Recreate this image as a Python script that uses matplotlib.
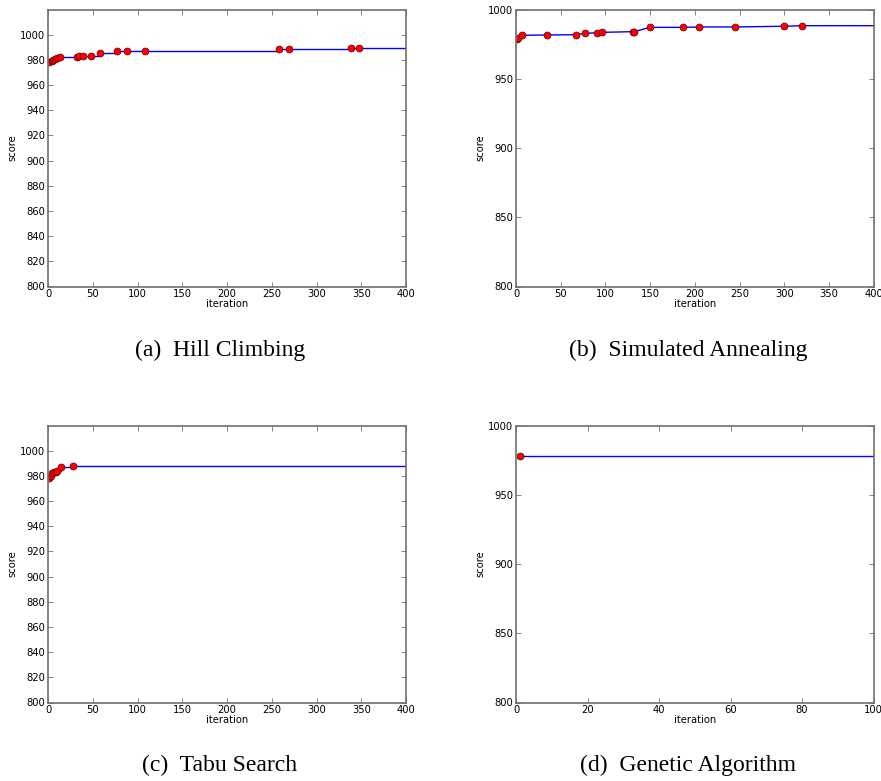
import matplotlib
matplotlib.use("Agg")
import matplotlib.pyplot as plt

# best score at each improving iteration
hc_iter = [1, 4, 6, 8, 10, 13, 32, 35, 39, 48, 58, 77, 88, 108, 258, 269, 339, 348]
hc_score = [978.2, 979.2, 980.2, 981.0, 981.6, 982.1, 982.4, 983.2, 983.4, 983.4,
            985.3, 987.4, 987.4, 987.4, 988.5, 988.5, 989.2, 989.2]

sa_iter = [1, 2, 7, 35, 67, 77, 91, 96, 131, 132, 150, 187, 205, 245, 300, 320]
sa_score = [978.5, 979.6, 981.4, 981.6, 981.8, 982.8, 983.2, 983.5, 984.0, 984.0,
            987.1, 987.1, 987.4, 987.4, 987.9, 988.3]

ts_iter = [1, 3, 5, 7, 9, 10, 14, 28]
ts_score = [978.2, 980.0, 982.2, 983.0, 983.4, 984.2, 987.2, 988.0]

ga_iter = [1]
ga_score = [978.1]

plt.rcParams['font.family'] = 'DejaVu Sans'
plt.rcParams['font.size'] = 7.2

W, H = 881, 781
fig = plt.figure(figsize=(W / 100, H / 100), dpi=100)


def panel(px_left, px_top, px_w, px_h):
    return fig.add_axes([px_left / W, 1 - (px_top + px_h) / H, px_w / W, px_h / H])


def style(ax, xmax, ylim, yticks):
    ax.set_xlim(0, xmax)
    ax.set_ylim(*ylim)
    ax.set_yticks(yticks)
    ax.tick_params(direction="in", top=True, right=True, length=3.5, width=0.6,
                   color="#707070", labelsize=7.2, pad=2)
    for s in ax.spines.values():
        s.set_linewidth(1.2)
        s.set_color("#707070")
    ax.set_xlabel("iteration", fontsize=7.2, labelpad=0)
    ax.set_ylabel("score", fontsize=7.2, labelpad=2)


def draw(ax, xs, ys, xmax, steps=True):
    lx = list(xs) + [xmax]
    ly = list(ys) + [ys[-1]]
    ax.plot(lx, ly, color="b", lw=1.0, drawstyle="steps-post" if steps else "default")
    ax.plot(xs, ys, "o", color="red", markersize=5, markeredgecolor="#600000",
            markeredgewidth=0.5)


ax_a = panel(48, 9.5, 358, 277)
draw(ax_a, hc_iter, hc_score, 400)
style(ax_a, 400, (800, 1020), range(800, 1001, 20))

ax_b = panel(516, 9.5, 357.6, 277)
draw(ax_b, sa_iter, sa_score, 400, steps=False)
style(ax_b, 400, (800, 1000), range(800, 1001, 50))

ax_c = panel(48, 425.5, 358, 277)
draw(ax_c, ts_iter, ts_score, 400)
style(ax_c, 400, (800, 1020), range(800, 1001, 20))

ax_d = panel(516, 425.5, 357.6, 277)
draw(ax_d, ga_iter, ga_score, 100)
style(ax_d, 100, (800, 1000), range(800, 1001, 50))

cap = dict(fontsize=17, family="Liberation Serif", ha="center", va="center")
fig.text(220 / W, 1 - 350 / H, "(a)  Hill Climbing", **cap)
fig.text(688 / W, 1 - 350 / H, "(b)  Simulated Annealing", **cap)
fig.text(220 / W, 1 - 765 / H, "(c)  Tabu Search", **cap)
fig.text(688 / W, 1 - 765 / H, "(d)  Genetic Algorithm", **cap)

fig.savefig("out.png", dpi=100)
